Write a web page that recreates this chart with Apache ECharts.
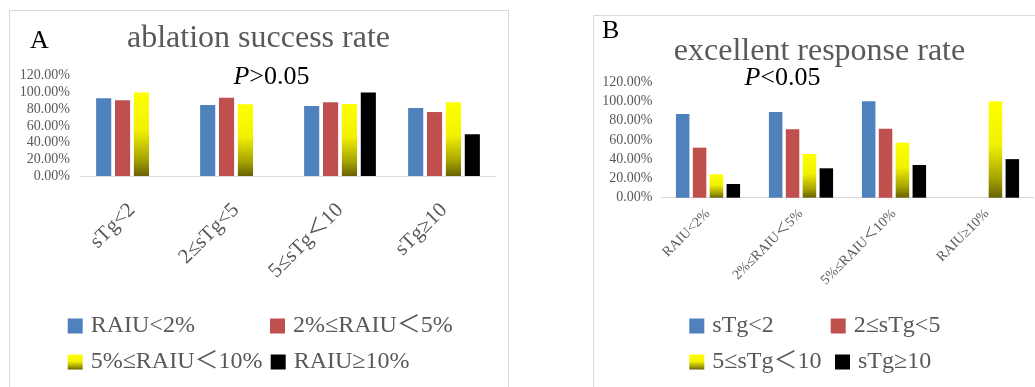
<!DOCTYPE html>
<html>
<head>
<meta charset="utf-8">
<script src="https://cdn.jsdelivr.net/npm/echarts@6/dist/echarts.min.js"></script>
<style>
html,body{margin:0;padding:0;background:#fff;}
#chart{width:1035px;height:387px;}
</style>
</head>
<body>
<div id="chart"></div>
<script>
// ---- Data ----
const catsA = ['sTg<2', '2≤sTg<5', '5≤sTg＜10', 'sTg≥10'];
const namesA = ['RAIU<2%', '2%≤RAIU＜5%', '5%≤RAIU＜10%', 'RAIU≥10%'];
const a_raiu2 = [93.1, 85.0, 83.8, 81.4];
const a_raiu2to5 = [90.7, 93.8, 88.3, 76.6];
const a_raiu5to10 = [100, 85.9, 86.2, 88.3];
const a_raiu10 = [null, null, 100, 50];

const catsB = ['RAIU<2%', '2%≤RAIU＜5%', '5%≤RAIU＜10%', 'RAIU≥10%'];
const namesB = ['sTg<2', '2≤sTg<5', '5≤sTg＜10', 'sTg≥10'];
const b_stg2 = [86.8, 88.9, 100, null];
const b_stg2to5 = [51.9, 71.0, 71.6, null];
const b_stg5to10 = [24.3, 45.3, 57.1, 100];
const b_stg10 = [14.2, 30.5, 33.9, 40];

const yTicks = [0, 20, 40, 60, 80, 100, 120];

// ---- Styles ----
const FONT = "'Times New Roman', 'Liberation Serif', 'Noto Sans CJK SC', serif";
const GREY = '#595959';
const yellowGrad = {
  type: 'linear', x: 0, y: 0, x2: 0, y2: 1,
  colorStops: [
    { offset: 0, color: '#ffff00' },
    { offset: 0.45, color: '#f2f200' },
    { offset: 0.8, color: '#a6a300' },
    { offset: 1, color: '#676200' }
  ]
};
const colors = ['#4f81bd', '#c0504d', yellowGrad, '#000000'];

const chart = echarts.init(document.getElementById('chart'));

function yAxis(gridIndex, margin) {
  return {
    type: 'value', gridIndex, min: yTicks[0], max: yTicks[yTicks.length - 1], interval: 20,
    axisLine: { show: false }, axisTick: { show: false }, splitLine: { show: false },
    axisLabel: { color: GREY, fontFamily: FONT, fontSize: 14, margin, formatter: v => v.toFixed(2) + '%' }
  };
}
function xAxis(gridIndex, cats, fontSize, margin) {
  return {
    type: 'category', gridIndex, data: cats,
    axisLine: { lineStyle: { color: '#d9d9d9', width: 1 } },
    axisTick: { show: false },
    axisLabel: { color: GREY, fontFamily: FONT, fontSize, rotate: 45, margin, interval: 0 }
  };
}
function bars(name, data, idx, gi) {
  return {
    type: 'bar', name, data, xAxisIndex: gi, yAxisIndex: gi,
    itemStyle: { color: colors[idx] },
    barGap: '25%', barCategoryGap: '31%',
    emphasis: { disabled: true }
  };
}
function legend(name, left, top) {
  return {
    data: [name], left, top, padding: 0, icon: 'rect', itemWidth: 15, itemHeight: 15,
    selectedMode: false,
    textStyle: { color: GREY, fontFamily: FONT, fontSize: 24, padding: [0, 0, 0, 3] }
  };
}

const option = {
  animation: false,
  backgroundColor: '#fff',
  grid: [
    { left: 80, top: 75.8, width: 416, height: 100.2 },
    { left: 661.5, top: 82, width: 372, height: 115.7 }
  ],
  xAxis: [xAxis(0, catsA, 21, 31), xAxis(1, catsB, 14, 14)],
  yAxis: [yAxis(0, 10), yAxis(1, 9)],
  legend: [
    legend(namesA[0], 67.7, 314), legend(namesA[1], 270, 314),
    legend(namesA[2], 67.7, 350), legend(namesA[3], 270.7, 350),
    legend(namesB[0], 689.3, 314), legend(namesB[1], 830.7, 314),
    legend(namesB[2], 689.3, 350), legend(namesB[3], 835, 350)
  ],
  series: [
    bars(namesA[0], a_raiu2, 0, 0),
    bars(namesA[1], a_raiu2to5, 1, 0),
    bars(namesA[2], a_raiu5to10, 2, 0),
    bars(namesA[3], a_raiu10, 3, 0),
    bars(namesB[0], b_stg2, 0, 1),
    bars(namesB[1], b_stg2to5, 1, 1),
    bars(namesB[2], b_stg5to10, 2, 1),
    bars(namesB[3], b_stg10, 3, 1)
  ],
  graphic: [
    { type: 'rect', shape: { x: 9.5, y: 10.5, width: 499, height: 400 }, style: { fill: 'none', stroke: '#d9d9d9', lineWidth: 1 }, silent: true, z: -1 },
    { type: 'rect', shape: { x: 593.5, y: 15.5, width: 500, height: 400 }, style: { fill: 'none', stroke: '#d9d9d9', lineWidth: 1 }, silent: true, z: -1 },
    { type: 'text', x: 30, y: 41, style: { text: 'A', font: '26px ' + FONT, fill: '#000', align: 'left', verticalAlign: 'middle' } },
    { type: 'text', x: 258.5, y: 39, style: { text: 'ablation success rate', font: '32px ' + FONT, fill: GREY, align: 'center', verticalAlign: 'middle' } },
    { type: 'text', x: 271.5, y: 77, style: { text: '{i|P}{n|>0.05}', align: 'center', verticalAlign: 'middle',
        rich: { i: { font: 'italic 26px ' + FONT, fill: '#000' }, n: { font: '26px ' + FONT, fill: '#000' } } } },
    { type: 'text', x: 602, y: 31, style: { text: 'B', font: '26px ' + FONT, fill: '#000', align: 'left', verticalAlign: 'middle' } },
    { type: 'text', x: 819.5, y: 52, style: { text: 'excellent response rate', font: '32px ' + FONT, fill: GREY, align: 'center', verticalAlign: 'middle' } },
    { type: 'text', x: 782.5, y: 78, style: { text: '{i|P}{n|<0.05}', align: 'center', verticalAlign: 'middle',
        rich: { i: { font: 'italic 26px ' + FONT, fill: '#000' }, n: { font: '26px ' + FONT, fill: '#000' } } } }
  ]
};
chart.setOption(option);
</script>
</body>
</html>
